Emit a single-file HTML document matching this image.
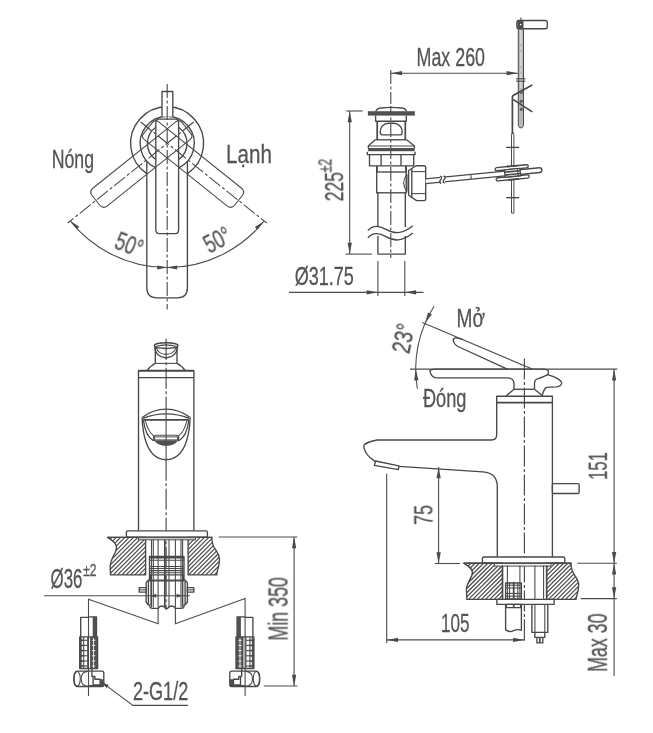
<!DOCTYPE html>
<html><head><meta charset="utf-8"><title>Faucet drawing</title>
<style>
html,body{margin:0;padding:0;background:#fff;}
body{width:653px;height:733px;overflow:hidden;font-family:"Liberation Sans",sans-serif;}
svg{display:block;}
.o{fill:none;stroke:#484848;stroke-width:1.35;stroke-linecap:butt;stroke-linejoin:round;}
.k{fill:none;stroke:#484848;stroke-width:1.7;}
.n{fill:none;stroke:#4c4c4c;stroke-width:1.1;}
.c{fill:none;stroke:#484848;stroke-width:1.1;stroke-dasharray:14 2.5 3 2.5;}
.c2{fill:none;stroke:#484848;stroke-width:1.15;stroke-dasharray:21 2.5 3 2.5;}
.h{fill:none;stroke:#505050;stroke-width:1.25;}
.w{fill:#fff;stroke:#484848;stroke-width:1.35;stroke-linejoin:round;}
.f{fill:#505050;stroke:none;}
.wf{fill:#fff;stroke:none;}
.gr{fill:#b8b8b8;stroke:#4a4a4a;stroke-width:1.0;}
.cw{fill:none;stroke:#f0f0f0;stroke-width:0.9;stroke-dasharray:14 2.5 3 2.5;}
.wl{fill:none;stroke:#e8e8e8;stroke-width:1.0;}
.wn{fill:#fff;stroke:#4c4c4c;stroke-width:1.0;}
.g{fill:#8a8a8a;stroke:none;}
.ah{fill:#4a4a4a;stroke:none;}
.t{font-family:"Liberation Sans",sans-serif;fill:#555;stroke:#555;stroke-width:0.3;}
</style></head><body>
<svg width="653" height="733" viewBox="0 0 653 733">
<defs><filter id="nf" x="-10%" y="-10%" width="120%" height="120%"><feOffset dx="0" dy="0"/></filter></defs>
<rect x="0" y="0" width="653" height="733" fill="#fff"/>
<g id="topview">
<path class="o" d="M146.8,173.6 A36.5,36.5 0 1 1 187.4,173.6" />
<path class="o" d="M155.8,167.9 A27.1,27.1 0 1 1 178.6,167.9" />
<path class="w" d="M162,116.6 V91.5 H172.8 V116.6" />
<path class="o" d="M155.8,127.3 A19.7,19.7 0 0 0 155.8,159.5" />
<path class="o" d="M178.6,127.3 A19.7,19.7 0 0 1 178.6,159.5" />
<path class="o" d="M146.8,161.2 V287.8 Q146.8,297.8 156.8,297.8 H177.4 Q187.4,297.8 187.4,287.8 V161.2" />
<g transform="translate(167.2,143.3)">
<path class="o" d="M-11.4,-21.2 V86.7 Q-11.4,90.3 -7.800000000000001,90.3 H7.800000000000001 Q11.4,90.3 11.4,86.7 V-21.2 Q11.4,-24.2 8.4,-24.2 H-8.4 Q-11.4,-24.2 -11.4,-21.2 Z" />
<g transform="rotate(51.3)">
<path class="n" d="M-11.4,-20.1 V85.8 Q-11.4,91.3 -5.9,91.3 H5.9 Q11.4,91.3 11.4,85.8 V-20.1 Q11.4,-24.6 6.9,-24.6 H-6.9 Q-11.4,-24.6 -11.4,-20.1 Z" />
<line class="c" x1="0.00" y1="-34.00" x2="0.00" y2="127.50"/>
</g>
<g transform="rotate(-51.3)">
<path class="n" d="M-11.4,-20.1 V85.8 Q-11.4,91.3 -5.9,91.3 H5.9 Q11.4,91.3 11.4,85.8 V-20.1 Q11.4,-24.6 6.9,-24.6 H-6.9 Q-11.4,-24.6 -11.4,-20.1 Z" />
<line class="c" x1="0.00" y1="-34.00" x2="0.00" y2="127.50"/>
</g>
</g>
<line class="c" x1="167.20" y1="84.00" x2="167.20" y2="309.50"/>
<path class="n" d="M70.41,221.12 A124.2,124.2 0 0 0 263.72,221.46" />
<polygon class="ah" points="70.41,221.12 79.28,226.65 76.88,229.33"/>
<polygon class="ah" points="263.72,221.46 257.27,229.69 254.86,227.02"/>
<polygon class="ah" points="167.20,267.50 157.20,269.40 157.20,265.60"/>
<polygon class="ah" points="167.20,267.50 177.20,265.60 177.20,269.40"/>
</g>
<text class="t" filter="url(#nf)" font-size="26.29" text-anchor="start" textLength="42.33" lengthAdjust="spacingAndGlyphs" transform="translate(51.70,167.90) rotate(0)" >Nóng</text>
<text class="t" filter="url(#nf)" font-size="26.29" text-anchor="start" textLength="45.86" lengthAdjust="spacingAndGlyphs" transform="translate(226.10,162.50) rotate(0)" >Lạnh</text>
<text class="t" filter="url(#nf)" font-size="26.19" text-anchor="start" textLength="27.87" lengthAdjust="spacingAndGlyphs" transform="translate(113.05,247.91) rotate(21)" >50°</text>
<text class="t" filter="url(#nf)" font-size="26.19" text-anchor="start" textLength="27.25" lengthAdjust="spacingAndGlyphs" transform="translate(209.49,253.98) rotate(-28)" >50°</text>
<g id="drain">
<line class="n" x1="390.80" y1="73.20" x2="517.90" y2="73.20"/>
<polygon class="ah" points="390.80,73.20 402.10,71.05 402.10,75.35"/>
<polygon class="ah" points="517.90,73.20 506.60,75.35 506.60,71.05"/>
<text class="t" filter="url(#nf)" font-size="26.29" text-anchor="start" textLength="68.54" lengthAdjust="spacingAndGlyphs" transform="translate(416.50,66.20) rotate(0)" >Max 260</text>
<line class="n" x1="349.70" y1="111.00" x2="349.70" y2="254.10"/>
<polygon class="ah" points="349.70,111.00 351.85,122.30 347.55,122.30"/>
<polygon class="ah" points="349.70,254.10 347.55,242.80 351.85,242.80"/>
<line class="n" x1="346.20" y1="111.00" x2="362.60" y2="111.00"/>
<line class="n" x1="345.40" y1="254.10" x2="371.90" y2="254.10"/>
<line class="c" x1="390.80" y1="70.00" x2="390.80" y2="104.00"/>
<line class="c" x1="390.8" y1="106" x2="390.8" y2="258" stroke-dashoffset="5"/>
<path class="o" d="M375.9,111.3 Q376.5,108.6 381,108 Q391,106.8 401.5,108 Q406,108.6 406.5,111.3" />
<rect class="f" x="367.90" y="111.20" width="46.90" height="4.40" rx="0"/>
<path class="o" d="M375.6,115.6 V121.2 H406.3 V115.6" />
<path class="k" d="M377.2,121.2 V139.8 M405.3,121.2 V139.8" />
<line class="o" x1="375.20" y1="139.80" x2="406.50" y2="139.80"/>
<path class="o" d="M375.2,139.8 L368.3,146 V148.2 M406.5,139.8 L414.5,146 V148.2" />
<line class="n" x1="368.30" y1="146.00" x2="414.50" y2="146.00"/>
<path class="o" d="M382,134.9 Q380.2,134.9 380.2,131.6 A8.4,8.4 0 0 1 388.6,123.2 H393.8 A8.4,8.4 0 0 1 402.2,131.6 Q402.2,134.9 400.5,134.9 Z" />
<rect class="f" x="368.10" y="148.00" width="46.60" height="3.20" rx="0"/>
<path class="o" d="M367.3,151.7 V154.6 H415.1 V151.7" />
<path class="o" d="M369.5,154.6 V165.9 H413.7 V154.6" />
<line class="o" x1="381.10" y1="154.60" x2="381.10" y2="165.90"/>
<line class="o" x1="401.00" y1="154.60" x2="401.00" y2="165.90"/>
<path class="o" d="M376.7,166 V192.8 H377.9 V227 M406.2,166 V192.8 H405.3 V227" />
<path class="k" d="M376.9,166 V172 M406,166 V172" />
<line class="o" x1="376.70" y1="172.00" x2="406.20" y2="172.00"/>
<line class="o" x1="376.70" y1="192.80" x2="406.20" y2="192.80"/>
<path class="o" d="M377.9,236 V254.1 H405.3 V236" />
<path class="o" d="M367.9,230.5 C372,225.8 378,224.8 386,229.3 S402,234.8 412.8,225.8" />
<path class="o" d="M367.9,237.8 C372,233.1 378,232.1 386,236.6 S402,242.1 412.8,233.1" />
<line class="n" x1="377.90" y1="261.10" x2="377.90" y2="296.00"/>
<line class="n" x1="404.80" y1="261.10" x2="404.80" y2="296.00"/>
<line class="n" x1="289.00" y1="292.40" x2="423.50" y2="292.40"/>
<polygon class="ah" points="377.90,292.30 366.60,294.45 366.60,290.15"/>
<polygon class="ah" points="404.80,292.30 416.10,290.15 416.10,294.45"/>
<text class="t" filter="url(#nf)" font-size="26.29" text-anchor="start" textLength="59.07" lengthAdjust="spacingAndGlyphs" transform="translate(294.80,284.50) rotate(0)" >Ø31.75</text>
<path class="w" d="M416.1,165.7 H424 Q425.7,165.7 425.7,167.4 V198.9 Q425.7,200.6 424,200.6 H416.6 L408.6,195.2 V170.5 Z" />
<line class="n" x1="411.80" y1="171.60" x2="425.70" y2="171.60"/>
<line class="n" x1="411.80" y1="193.60" x2="425.70" y2="193.60"/>
<line class="o" x1="411.80" y1="168.60" x2="411.80" y2="197.20"/>
<path class="n" d="M406.8,174.3 Q400.6,182.9 406.8,191.4" />
<line class="n" x1="407.00" y1="174.30" x2="407.00" y2="191.40"/>
<path class="wn" d="M511.5,134.8 L512.7,132 L513.9,134.8 V213.1 H511.5 Z" />
<line class="o" x1="506.10" y1="147.40" x2="519.30" y2="147.40"/>
<line class="o" x1="506.10" y1="197.70" x2="519.10" y2="197.70"/>
<g transform="translate(425.7,181.3) rotate(-5.6)">
<path class="w" d="M72,-6.7 H101.6 Q103.5,-6.7 103.5,-5.1 Q103.5,-3.5 101.6,-3.5 H72 Q70.3,-3.5 70.3,-5.1 Q70.3,-6.7 72,-6.7 Z" />
<path class="w" d="M72,3.5 H101.6 Q103.5,3.5 103.5,5.1 Q103.5,6.7 101.6,6.7 H72 Q70.3,6.7 70.3,5.1 Q70.3,3.5 72,3.5 Z" />
<path class="w" d="M0,-2.4 H114.5 Q116.7,-2.4 116.7,0 Q116.7,2.4 114.5,2.4 H0" />
<line class="n" x1="45.50" y1="-2.40" x2="45.50" y2="2.40"/>
<rect class="wf" x="14.60" y="-3.00" width="4.60" height="6.00" rx="0"/>
<path class="o" d="M15,-3.8 q2.2,1.9 0,3.8 q-2.2,1.9 0,3.8 M18.6,-3.8 q2.2,1.9 0,3.8 q-2.2,1.9 0,3.8" />
<rect class="w" x="79.50" y="-3.70" width="15.50" height="7.40" rx="0"/>
<line class="k" x1="79.50" y1="-1.30" x2="95.00" y2="-1.30"/>
<line class="k" x1="79.50" y1="1.50" x2="95.00" y2="1.50"/>
<line class="n" x1="92.50" y1="-3.70" x2="92.50" y2="3.70"/>
<line class="k" x1="82.00" y1="-6.70" x2="93.00" y2="-6.70"/>
<line class="k" x1="82.00" y1="6.70" x2="93.00" y2="6.70"/>
</g>
<path class="gr" d="M518.3,24 V125.6 L519.8,127.8 H522 L523.5,125.6 V24 Z" />
<line class="n" x1="520.90" y1="17.50" x2="520.90" y2="24.00"/>
<line class="cw" x1="520.90" y1="30.00" x2="520.90" y2="95.00"/>
<rect class="w" x="516.90" y="20.50" width="30.40" height="8.20" rx="2"/>
<rect class="f" x="517.30" y="21.00" width="6.20" height="7.20" rx="0"/>
<circle class="w" cx="520.60" cy="24.60" r="1.50"/>
<line class="n" x1="516.00" y1="78.80" x2="525.50" y2="78.80"/>
<line class="n" x1="516.00" y1="81.20" x2="525.50" y2="81.20"/>
<path class="k" d="M532.3,84.9 L513.5,95.2 Q512.4,95.8 512.4,97.2 V134 M513.4,99.6 L532.3,111.9" />
<circle class="n" cx="521.30" cy="92.30" r="1.10"/>
<circle class="n" cx="521.30" cy="101.30" r="1.10"/>
<circle class="n" cx="521.30" cy="109.30" r="1.10"/>
</g>
<text class="t" filter="url(#nf)" font-size="26.7" text-anchor="start" textLength="29.22" lengthAdjust="spacingAndGlyphs" transform="translate(343.10,201.30) rotate(-90)" >225</text>
<text class="t" filter="url(#nf)" font-size="18.94" text-anchor="start" textLength="13.52" lengthAdjust="spacingAndGlyphs" transform="translate(331.40,172.40) rotate(-90)" >±2</text>
<g id="front">
<path class="o" d="M155.3,347.5 V363.3 Q150.8,365.3 147.2,370.5 M177.0,347.5 V363.3 Q181.5,365.3 185.1,370.5" />
<line class="n" x1="155.30" y1="363.40" x2="177.00" y2="363.40"/>
<ellipse class="w" cx="166.1" cy="345.6" rx="11.9" ry="2.9"/>
<path class="n" d="M155.4,346.6 Q166.1,343.2 176.8,346.6" />
<path class="o" d="M154.6,346.8 Q155.5,357.0 166.1,358.0 Q176.7,357.0 177.6,346.8" />
<path class="n" d="M156,347.6 Q158.5,354.0 166.1,354.4 Q173.7,354.0 176.2,347.6" />
<path class="o" d="M138.5,530.8 V370.7 H193.9 V530.8" />
<line class="o" x1="138.50" y1="377.60" x2="193.90" y2="377.60"/>
<line class="k" x1="138.50" y1="370.70" x2="193.90" y2="370.70"/>
<path class="o" d="M142.1,417.5 Q153,409.1 166.1,409.1 Q179.2,409.1 190.2,417.5" />
<path class="o" d="M143,418.3 Q154,413.8 166.1,413.8 Q178.2,413.8 189.3,418.3" />
<line class="k" x1="143.60" y1="419.90" x2="188.70" y2="419.90"/>
<path class="o" d="M142.1,417.5 C142.6,432 146,459.7 166.1,459.7 C186.2,459.7 189.6,432 190.2,417.5" />
<path class="o" d="M143.4,419.5 C144.5,430 147.5,437.5 153.7,441 M188.9,419.5 C187.8,430 184.8,437.5 178.6,441" />
<path class="n" d="M145.4,420.5 C147,428 150,433 153.8,436 L156,435.3 H176.3 L178.5,436 C182.3,433 185.3,428 186.9,420.5" />
<path class="o" d="M153.8,436 V441 M178.5,436 V441" />
<path class="f" d="M153.7,440.3 H178.6 Q174,446 166.1,446 Q158.3,446 153.7,440.3 Z" />
<rect class="wn" x="154.60" y="436.90" width="23.00" height="3.00" rx="0"/>
<line class="c2" x1="166.10" y1="338.70" x2="166.10" y2="409.00"/>
<line class="c2" x1="166.10" y1="459.70" x2="166.10" y2="610.00"/>
<line class="n" x1="166.10" y1="409.00" x2="166.10" y2="459.70"/>
<rect class="w" x="126.40" y="530.80" width="81.00" height="6.40" rx="1.5"/>
<clipPath id="cl1"><path d="M107.4,537.4 H145.6 V574.9 H110.6 L110.1,566.8 C110.5,558 116.5,553 116.5,547.5 C116.5,543 112,540 107.4,537.4 Z"/></clipPath><clipPath id="cr1"><path d="M188.1,537.4 H211.7 L212.2,542 C213,549 219.5,552 219.5,559.4 C219.5,566 217,570 216.8,574.9 H188.1 Z"/></clipPath>
<g clip-path="url(#cl1)">
<line class="h" x1="70.20" y1="574.90" x2="107.70" y2="537.40"/>
<line class="h" x1="74.50" y1="574.90" x2="112.00" y2="537.40"/>
<line class="h" x1="78.80" y1="574.90" x2="116.30" y2="537.40"/>
<line class="h" x1="83.10" y1="574.90" x2="120.60" y2="537.40"/>
<line class="h" x1="87.40" y1="574.90" x2="124.90" y2="537.40"/>
<line class="h" x1="91.70" y1="574.90" x2="129.20" y2="537.40"/>
<line class="h" x1="96.00" y1="574.90" x2="133.50" y2="537.40"/>
<line class="h" x1="100.30" y1="574.90" x2="137.80" y2="537.40"/>
<line class="h" x1="104.60" y1="574.90" x2="142.10" y2="537.40"/>
<line class="h" x1="108.90" y1="574.90" x2="146.40" y2="537.40"/>
<line class="h" x1="113.20" y1="574.90" x2="150.70" y2="537.40"/>
<line class="h" x1="117.50" y1="574.90" x2="155.00" y2="537.40"/>
<line class="h" x1="121.80" y1="574.90" x2="159.30" y2="537.40"/>
<line class="h" x1="126.10" y1="574.90" x2="163.60" y2="537.40"/>
<line class="h" x1="130.40" y1="574.90" x2="167.90" y2="537.40"/>
<line class="h" x1="134.70" y1="574.90" x2="172.20" y2="537.40"/>
<line class="h" x1="139.00" y1="574.90" x2="176.50" y2="537.40"/>
<line class="h" x1="143.30" y1="574.90" x2="180.80" y2="537.40"/>
</g>
<g clip-path="url(#cr1)">
<line class="h" x1="149.80" y1="574.90" x2="187.30" y2="537.40"/>
<line class="h" x1="154.10" y1="574.90" x2="191.60" y2="537.40"/>
<line class="h" x1="158.40" y1="574.90" x2="195.90" y2="537.40"/>
<line class="h" x1="162.70" y1="574.90" x2="200.20" y2="537.40"/>
<line class="h" x1="167.00" y1="574.90" x2="204.50" y2="537.40"/>
<line class="h" x1="171.30" y1="574.90" x2="208.80" y2="537.40"/>
<line class="h" x1="175.60" y1="574.90" x2="213.10" y2="537.40"/>
<line class="h" x1="179.90" y1="574.90" x2="217.40" y2="537.40"/>
<line class="h" x1="184.20" y1="574.90" x2="221.70" y2="537.40"/>
<line class="h" x1="188.50" y1="574.90" x2="226.00" y2="537.40"/>
<line class="h" x1="192.80" y1="574.90" x2="230.30" y2="537.40"/>
<line class="h" x1="197.10" y1="574.90" x2="234.60" y2="537.40"/>
<line class="h" x1="201.40" y1="574.90" x2="238.90" y2="537.40"/>
<line class="h" x1="205.70" y1="574.90" x2="243.20" y2="537.40"/>
<line class="h" x1="210.00" y1="574.90" x2="247.50" y2="537.40"/>
<line class="h" x1="214.30" y1="574.90" x2="251.80" y2="537.40"/>
<line class="h" x1="218.60" y1="574.90" x2="256.10" y2="537.40"/>
</g>
<path class="o" d="M107.4,537.4 H145.6 V574.9 H110.6 L110.1,566.8 C110.5,558 116.5,553 116.5,547.5 C116.5,543 112,540 107.4,537.4 Z" />
<path class="o" d="M188.1,537.4 H211.7 L212.2,542 C213,549 219.5,552 219.5,559.4 C219.5,566 217,570 216.8,574.9 H188.1 Z" />
<line class="o" x1="107.40" y1="537.40" x2="212.60" y2="537.40"/>
<rect class="wn" x="138.30" y="537.80" width="57.20" height="2.00" rx="0"/>
<line class="n" x1="151.50" y1="539.60" x2="151.50" y2="607.50"/>
<line class="n" x1="153.30" y1="539.60" x2="153.30" y2="607.50"/>
<line class="n" x1="158.10" y1="539.60" x2="158.10" y2="607.50"/>
<line class="n" x1="169.00" y1="539.60" x2="169.00" y2="607.50"/>
<line class="n" x1="175.40" y1="539.60" x2="175.40" y2="607.50"/>
<line class="n" x1="181.00" y1="539.60" x2="181.00" y2="607.50"/>
<line class="n" x1="182.60" y1="539.60" x2="182.60" y2="607.50"/>
<line class="k" x1="164.80" y1="539.60" x2="164.80" y2="608.00"/>
<rect class="o" x="149.50" y="556.40" width="34.50" height="24.40" rx="0"/>
<line class="k" x1="149.50" y1="557.60" x2="184.00" y2="557.60"/>
<line class="n" x1="149.50" y1="560.30" x2="184.00" y2="560.30"/>
<line class="n" x1="149.50" y1="566.50" x2="184.00" y2="566.50"/>
<line class="n" x1="149.50" y1="568.50" x2="184.00" y2="568.50"/>
<line class="n" x1="149.50" y1="570.60" x2="184.00" y2="570.60"/>
<line class="n" x1="149.50" y1="572.70" x2="184.00" y2="572.70"/>
<line class="n" x1="149.50" y1="574.90" x2="184.00" y2="574.90"/>
<line class="k" x1="150.40" y1="574.90" x2="150.40" y2="580.80"/>
<line class="k" x1="165.20" y1="574.90" x2="165.20" y2="580.80"/>
<line class="k" x1="183.10" y1="574.90" x2="183.10" y2="580.80"/>
<path class="o" d="M148.2,580.1 L146.1,582.8 V602 L148.2,604.9 H149.8 V606.5 Q150,608.4 152.5,608.4 H158.1 Q159.3,606.0 162.0,606.0 Q164.6,606.0 165.6,608.4 H167.6 Q168.8,606.0 171.6,606.0 Q174.3,606.0 175.4,608.4 H181 Q183.8,608.4 184,606.5 V604.9 H185.3 L187.4,602 V582.8 L185.3,580.1 Z" />
<line class="o" x1="148.40" y1="581.00" x2="148.40" y2="604.00"/>
<line class="n" x1="150.90" y1="580.10" x2="150.90" y2="604.90"/>
<line class="o" x1="185.10" y1="581.00" x2="185.10" y2="604.00"/>
<line class="n" x1="182.70" y1="580.10" x2="182.70" y2="604.90"/>
<rect class="w" x="139.20" y="587.60" width="6.90" height="4.60" rx="0"/>
<line class="n" x1="139.20" y1="589.90" x2="146.10" y2="589.90"/>
<rect class="w" x="187.40" y="587.60" width="6.40" height="4.60" rx="0"/>
<line class="n" x1="187.40" y1="589.90" x2="193.80" y2="589.90"/>
<line class="n" x1="44.10" y1="595.70" x2="189.80" y2="595.70"/>
<polygon class="ah" points="150.50,595.70 156.30,593.70 156.30,597.70"/>
<polygon class="ah" points="182.40,595.70 176.60,597.70 176.60,593.70"/>
<path class="n" d="M88.5,696 V599.2 L158.1,623.8 V608 M245.1,696 V598.5 L175.4,623.8 V608" />
<g transform="translate(88.5,0) scale(1,1)">
<path class="o" d="M-7.8,636.9 V617.4 H0 V616.8 H8 V636.9" />
<rect class="f" x="4.20" y="616.80" width="3.80" height="20.10" rx="0"/>
<rect class="o" x="-8.80" y="636.90" width="17.90" height="31.60" rx="0"/>
<rect class="f" x="1.60" y="636.90" width="7.50" height="31.60" rx="0"/>
<rect class="f" x="-8.80" y="636.90" width="2.00" height="31.60" rx="0"/>
<line class="k" x1="-8.80" y1="640.30" x2="-4.80" y2="640.30"/>
<line class="n" x1="-4.80" y1="640.30" x2="-0.80" y2="640.30"/>
<line class="wl" x1="3.40" y1="640.30" x2="6.80" y2="640.30"/>
<line class="k" x1="-8.80" y1="645.40" x2="-4.80" y2="645.40"/>
<line class="n" x1="-4.80" y1="645.40" x2="-0.80" y2="645.40"/>
<line class="wl" x1="3.40" y1="645.40" x2="6.80" y2="645.40"/>
<line class="k" x1="-8.80" y1="650.60" x2="-4.80" y2="650.60"/>
<line class="n" x1="-4.80" y1="650.60" x2="-0.80" y2="650.60"/>
<line class="wl" x1="3.40" y1="650.60" x2="6.80" y2="650.60"/>
<line class="k" x1="-8.80" y1="655.80" x2="-4.80" y2="655.80"/>
<line class="n" x1="-4.80" y1="655.80" x2="-0.80" y2="655.80"/>
<line class="wl" x1="3.40" y1="655.80" x2="6.80" y2="655.80"/>
<line class="k" x1="-8.80" y1="661.00" x2="-4.80" y2="661.00"/>
<line class="n" x1="-4.80" y1="661.00" x2="-0.80" y2="661.00"/>
<line class="wl" x1="3.40" y1="661.00" x2="6.80" y2="661.00"/>
<line class="k" x1="-8.80" y1="666.00" x2="-4.80" y2="666.00"/>
<line class="n" x1="-4.80" y1="666.00" x2="-0.80" y2="666.00"/>
<line class="wl" x1="3.40" y1="666.00" x2="6.80" y2="666.00"/>
<line class="n" x1="-4.80" y1="636.90" x2="-4.80" y2="668.50"/>
<line class="n" x1="-0.80" y1="636.90" x2="-0.80" y2="668.50"/>
<line class="wl" x1="5.10" y1="638.00" x2="5.10" y2="668.00"/>
<path class="w" d="M-11.5,671.1 H13.6 Q15.3,671.1 15.3,673 V685 Q15.3,686.5 13.6,686.5 H-11.5 Q-14.7,686.3 -14.7,679 Q-14.7,671.3 -11.5,671.1 Z" />
<path class="n" d="M0,671.1 Q-7.6,671.8 -7.4,678.8 Q-7.6,685.8 0,686.5" />
<ellipse class="n" cx="-11.3" cy="678.8" rx="3.1" ry="7.3"/>
<line class="n" x1="0.00" y1="671.10" x2="0.00" y2="686.50"/>
<path class="o" d="M3.4,668.5 V676.3 H6.4 V679.2 H11.6 V685 H4.6 V676.3" />
<path class="f" d="M11.6,679.2 H15.3 V686.5 H11.6 Z" />
<line class="k" x1="-0.50" y1="685.90" x2="14.50" y2="685.90"/>
</g>
<g transform="translate(245.1,0) scale(-1,1)">
<path class="o" d="M-7.8,636.9 V617.4 H0 V616.8 H8 V636.9" />
<rect class="f" x="4.20" y="616.80" width="3.80" height="20.10" rx="0"/>
<rect class="o" x="-8.80" y="636.90" width="17.90" height="31.60" rx="0"/>
<rect class="f" x="1.60" y="636.90" width="7.50" height="31.60" rx="0"/>
<rect class="f" x="-8.80" y="636.90" width="2.00" height="31.60" rx="0"/>
<line class="k" x1="-8.80" y1="640.30" x2="-4.80" y2="640.30"/>
<line class="n" x1="-4.80" y1="640.30" x2="-0.80" y2="640.30"/>
<line class="wl" x1="3.40" y1="640.30" x2="6.80" y2="640.30"/>
<line class="k" x1="-8.80" y1="645.40" x2="-4.80" y2="645.40"/>
<line class="n" x1="-4.80" y1="645.40" x2="-0.80" y2="645.40"/>
<line class="wl" x1="3.40" y1="645.40" x2="6.80" y2="645.40"/>
<line class="k" x1="-8.80" y1="650.60" x2="-4.80" y2="650.60"/>
<line class="n" x1="-4.80" y1="650.60" x2="-0.80" y2="650.60"/>
<line class="wl" x1="3.40" y1="650.60" x2="6.80" y2="650.60"/>
<line class="k" x1="-8.80" y1="655.80" x2="-4.80" y2="655.80"/>
<line class="n" x1="-4.80" y1="655.80" x2="-0.80" y2="655.80"/>
<line class="wl" x1="3.40" y1="655.80" x2="6.80" y2="655.80"/>
<line class="k" x1="-8.80" y1="661.00" x2="-4.80" y2="661.00"/>
<line class="n" x1="-4.80" y1="661.00" x2="-0.80" y2="661.00"/>
<line class="wl" x1="3.40" y1="661.00" x2="6.80" y2="661.00"/>
<line class="k" x1="-8.80" y1="666.00" x2="-4.80" y2="666.00"/>
<line class="n" x1="-4.80" y1="666.00" x2="-0.80" y2="666.00"/>
<line class="wl" x1="3.40" y1="666.00" x2="6.80" y2="666.00"/>
<line class="n" x1="-4.80" y1="636.90" x2="-4.80" y2="668.50"/>
<line class="n" x1="-0.80" y1="636.90" x2="-0.80" y2="668.50"/>
<line class="wl" x1="5.10" y1="638.00" x2="5.10" y2="668.00"/>
<path class="w" d="M-11.5,671.1 H13.6 Q15.3,671.1 15.3,673 V685 Q15.3,686.5 13.6,686.5 H-11.5 Q-14.7,686.3 -14.7,679 Q-14.7,671.3 -11.5,671.1 Z" />
<path class="n" d="M0,671.1 Q-7.6,671.8 -7.4,678.8 Q-7.6,685.8 0,686.5" />
<ellipse class="n" cx="-11.3" cy="678.8" rx="3.1" ry="7.3"/>
<line class="n" x1="0.00" y1="671.10" x2="0.00" y2="686.50"/>
<path class="o" d="M3.4,668.5 V676.3 H6.4 V679.2 H11.6 V685 H4.6 V676.3" />
<path class="f" d="M11.6,679.2 H15.3 V686.5 H11.6 Z" />
<line class="k" x1="-0.50" y1="685.90" x2="14.50" y2="685.90"/>
</g>
<path class="n" d="M102,682.4 L132.9,705.4 H188.1" />
<polygon class="ah" points="102.00,682.40 108.75,685.06 106.48,688.11"/>
<line class="n" x1="294.10" y1="537.00" x2="294.10" y2="686.00"/>
<polygon class="ah" points="294.10,537.00 296.25,548.30 291.95,548.30"/>
<polygon class="ah" points="294.10,686.00 291.95,674.70 296.25,674.70"/>
<line class="n" x1="218.70" y1="537.00" x2="297.40" y2="537.00"/>
<line class="n" x1="263.70" y1="686.00" x2="297.40" y2="686.00"/>
</g>
<text class="t" filter="url(#nf)" font-size="27.12" text-anchor="start" textLength="31.93" lengthAdjust="spacingAndGlyphs" transform="translate(50.50,587.80) rotate(0)" >Ø36</text>
<text class="t" filter="url(#nf)" font-size="17.08" text-anchor="start" textLength="13.21" lengthAdjust="spacingAndGlyphs" transform="translate(83.30,575.70) rotate(0)" >±2</text>
<text class="t" filter="url(#nf)" font-size="26.29" text-anchor="start" textLength="55.33" lengthAdjust="spacingAndGlyphs" transform="translate(132.90,700.40) rotate(0)" >2-G1/2</text>
<text class="t" filter="url(#nf)" font-size="26.91" text-anchor="start" textLength="63.54" lengthAdjust="spacingAndGlyphs" transform="translate(287.60,640.60) rotate(-90)" >Min 350</text>
<g id="side">
<line class="n" x1="410.00" y1="369.10" x2="617.30" y2="369.10"/>
<path class="o" d="M435.5,369.1 H544 M435.5,369.1 Q429.4,369.2 430,371.6 Q431.5,377.9 437.5,377.9 H508 Q513.6,378.2 514,383.4 V389.3 L506,396" />
<path class="o" d="M544,369.1 Q548.6,369.6 548.4,372 Q548.3,373.6 547.7,374.6 Q553,376.2 557.5,378.6 Q562,381.2 561.7,383.4 Q561,386.4 556.5,386.8 Q550,386.8 546.3,387.4 Q544.3,389 543.4,391.8 L542.2,395.6" />
<path class="o" d="M534.5,389.3 V383.4 Q534.6,379.6 537.5,378.8 Q543,377.2 547.7,374.6" />
<line class="o" x1="514.00" y1="389.30" x2="534.50" y2="389.30"/>
<line class="o" x1="534.50" y1="389.30" x2="542.20" y2="395.60"/>
<line class="n" x1="422.40" y1="322.50" x2="532.30" y2="369.10"/>
<path class="o" d="M463,339.7 Q453.5,336 453.2,340 Q453.5,344.5 459,347 L507.3,369.1" />
<path class="n" d="M434.07,306.28 A116.6,116.6 0 0 0 417.37,388.75" />
<polygon class="ah" points="424.97,323.54 427.99,312.44 431.86,314.33"/>
<polygon class="ah" points="415.70,369.10 418.44,380.27 414.14,380.50"/>
<path class="o" d="M552.4,557 V396.2 H496.7 V434.5 Q496.7,440 491.5,440 H377 Q368,441.8 364.4,444.6 Q363.2,446.2 364.6,449.8 Q367,456.5 375.2,461.4" />
<line class="k" x1="496.70" y1="402.60" x2="552.40" y2="402.60"/>
<path class="w" d="M375.6,461.0 L398.9,465.8 L398.4,469.6 L374.4,465.4 Z" />
<path class="o" d="M398.9,466.3 L483,471.8 Q497.3,472.8 497.3,487 V557" />
<rect class="w" x="552.40" y="483.60" width="26.70" height="9.90" rx="1"/>
<line class="c2" x1="524.40" y1="358.60" x2="524.40" y2="643.00"/>
<rect class="w" x="482.40" y="557.00" width="82.40" height="6.20" rx="1.5"/>
<clipPath id="cl2"><path d="M463.7,563.2 H502.6 V599.4 H466.9 L466.4,589.5 C466.8,582 472.4,578 472.4,572.5 C472.4,568 468,566 463.7,563.2 Z"/></clipPath><clipPath id="cr2"><path d="M546.6,563.2 H570.9 L571.4,567.8 C572.2,574.8 578.7,577.8 578.7,585.2 C578.7,591.8 576.2,595.8 576,599.4 H546.6 Z"/></clipPath>
<g clip-path="url(#cl2)">
<line class="h" x1="426.10" y1="599.40" x2="462.30" y2="563.20"/>
<line class="h" x1="430.35" y1="599.40" x2="466.55" y2="563.20"/>
<line class="h" x1="434.60" y1="599.40" x2="470.80" y2="563.20"/>
<line class="h" x1="438.85" y1="599.40" x2="475.05" y2="563.20"/>
<line class="h" x1="443.10" y1="599.40" x2="479.30" y2="563.20"/>
<line class="h" x1="447.35" y1="599.40" x2="483.55" y2="563.20"/>
<line class="h" x1="451.60" y1="599.40" x2="487.80" y2="563.20"/>
<line class="h" x1="455.85" y1="599.40" x2="492.05" y2="563.20"/>
<line class="h" x1="460.10" y1="599.40" x2="496.30" y2="563.20"/>
<line class="h" x1="464.35" y1="599.40" x2="500.55" y2="563.20"/>
<line class="h" x1="468.60" y1="599.40" x2="504.80" y2="563.20"/>
<line class="h" x1="472.85" y1="599.40" x2="509.05" y2="563.20"/>
<line class="h" x1="477.10" y1="599.40" x2="513.30" y2="563.20"/>
<line class="h" x1="481.35" y1="599.40" x2="517.55" y2="563.20"/>
<line class="h" x1="485.60" y1="599.40" x2="521.80" y2="563.20"/>
<line class="h" x1="489.85" y1="599.40" x2="526.05" y2="563.20"/>
<line class="h" x1="494.10" y1="599.40" x2="530.30" y2="563.20"/>
<line class="h" x1="498.35" y1="599.40" x2="534.55" y2="563.20"/>
<line class="h" x1="502.60" y1="599.40" x2="538.80" y2="563.20"/>
</g>
<g clip-path="url(#cr2)">
<line class="h" x1="510.30" y1="599.40" x2="546.50" y2="563.20"/>
<line class="h" x1="514.55" y1="599.40" x2="550.75" y2="563.20"/>
<line class="h" x1="518.80" y1="599.40" x2="555.00" y2="563.20"/>
<line class="h" x1="523.05" y1="599.40" x2="559.25" y2="563.20"/>
<line class="h" x1="527.30" y1="599.40" x2="563.50" y2="563.20"/>
<line class="h" x1="531.55" y1="599.40" x2="567.75" y2="563.20"/>
<line class="h" x1="535.80" y1="599.40" x2="572.00" y2="563.20"/>
<line class="h" x1="540.05" y1="599.40" x2="576.25" y2="563.20"/>
<line class="h" x1="544.30" y1="599.40" x2="580.50" y2="563.20"/>
<line class="h" x1="548.55" y1="599.40" x2="584.75" y2="563.20"/>
<line class="h" x1="552.80" y1="599.40" x2="589.00" y2="563.20"/>
<line class="h" x1="557.05" y1="599.40" x2="593.25" y2="563.20"/>
<line class="h" x1="561.30" y1="599.40" x2="597.50" y2="563.20"/>
<line class="h" x1="565.55" y1="599.40" x2="601.75" y2="563.20"/>
<line class="h" x1="569.80" y1="599.40" x2="606.00" y2="563.20"/>
<line class="h" x1="574.05" y1="599.40" x2="610.25" y2="563.20"/>
<line class="h" x1="578.30" y1="599.40" x2="614.50" y2="563.20"/>
</g>
<path class="o" d="M463.7,563.2 H502.6 V599.4 H466.9 L466.4,589.5 C466.8,582 472.4,578 472.4,572.5 C472.4,568 468,566 463.7,563.2 Z" />
<path class="o" d="M546.6,563.2 H570.9 L571.4,567.8 C572.2,574.8 578.7,577.8 578.7,585.2 C578.7,591.8 576.2,595.8 576,599.4 H546.6 Z" />
<line class="o" x1="463.70" y1="563.20" x2="571.50" y2="563.20"/>
<rect class="wn" x="494.50" y="563.60" width="56.50" height="2.50" rx="0"/>
<line class="n" x1="507.40" y1="565.40" x2="507.40" y2="599.40"/>
<line class="n" x1="519.90" y1="565.40" x2="519.90" y2="599.40"/>
<line class="n" x1="534.90" y1="565.40" x2="534.90" y2="599.40"/>
<line class="n" x1="543.60" y1="565.40" x2="543.60" y2="599.40"/>
<line class="o" x1="502.40" y1="565.40" x2="502.40" y2="599.40"/>
<line class="o" x1="546.60" y1="565.40" x2="546.60" y2="599.40"/>
<rect class="o" x="505.60" y="583.00" width="15.80" height="15.90" rx="0"/>
<line class="n" x1="505.60" y1="585.20" x2="521.40" y2="585.20"/>
<line class="n" x1="505.60" y1="588.00" x2="521.40" y2="588.00"/>
<line class="n" x1="505.60" y1="593.40" x2="521.40" y2="593.40"/>
<line class="n" x1="505.60" y1="596.20" x2="521.40" y2="596.20"/>
<line class="n" x1="509.50" y1="582.40" x2="509.50" y2="598.70"/>
<line class="n" x1="517.80" y1="582.40" x2="517.80" y2="598.70"/>
<line class="k" x1="513.70" y1="581.80" x2="513.70" y2="598.70"/>
<rect class="w" x="496.90" y="599.40" width="57.20" height="5.00" rx="0"/>
<path class="o" d="M505.6,604.4 V629.9 Q509.5,632.8 513.5,630.6 Q517.5,628.8 521.4,630.4 V604.4" />
<rect class="o" x="506.30" y="604.40" width="14.40" height="3.20" rx="0"/>
<line class="k" x1="513.70" y1="604.40" x2="513.70" y2="607.60"/>
<path class="o" d="M531.9,604.4 V632.4 H547.8 V604.4" />
<line class="n" x1="534.90" y1="604.40" x2="534.90" y2="632.40"/>
<line class="n" x1="544.80" y1="604.40" x2="544.80" y2="632.40"/>
<path class="o" d="M534.9,632.4 V637.4 H544.8 V632.4 M536.9,637.4 V642.9 H542.8 V637.4" />
<line class="k" x1="539.80" y1="637.40" x2="539.80" y2="642.90"/>
<line class="n" x1="614.10" y1="369.20" x2="614.10" y2="563.20"/>
<polygon class="ah" points="614.10,369.20 616.25,380.50 611.95,380.50"/>
<polygon class="ah" points="614.10,563.20 611.95,551.90 616.25,551.90"/>
<line class="n" x1="577.40" y1="563.20" x2="616.90" y2="563.20"/>
<line class="n" x1="580.70" y1="598.60" x2="616.90" y2="598.60"/>
<line class="n" x1="614.10" y1="563.20" x2="614.10" y2="676.00"/>
<polygon class="ah" points="614.10,563.20 616.25,574.50 611.95,574.50"/>
<polygon class="ah" points="614.10,598.60 611.95,587.30 616.25,587.30"/>
<line class="n" x1="438.60" y1="466.90" x2="438.60" y2="563.50"/>
<polygon class="ah" points="438.60,466.90 440.75,478.20 436.45,478.20"/>
<polygon class="ah" points="438.60,563.50 436.45,552.20 440.75,552.20"/>
<line class="n" x1="434.90" y1="563.50" x2="459.80" y2="563.50"/>
<line class="n" x1="386.70" y1="473.70" x2="386.70" y2="642.90"/>
<line class="n" x1="386.70" y1="639.90" x2="524.40" y2="639.90"/>
<polygon class="ah" points="386.70,639.90 398.00,637.75 398.00,642.05"/>
<polygon class="ah" points="524.40,639.90 513.10,642.05 513.10,637.75"/>
</g>
<text class="t" filter="url(#nf)" font-size="26.29" text-anchor="start" textLength="28.50" lengthAdjust="spacingAndGlyphs" transform="translate(456.60,327.00) rotate(0)" >Mở</text>
<text class="t" filter="url(#nf)" font-size="26.29" text-anchor="start" textLength="43.58" lengthAdjust="spacingAndGlyphs" transform="translate(422.90,406.60) rotate(0)" >Đóng</text>
<text class="t" filter="url(#nf)" font-size="26.29" text-anchor="start" textLength="29.64" lengthAdjust="spacingAndGlyphs" transform="translate(409.04,354.58) rotate(-78.5)" >23°</text>
<text class="t" filter="url(#nf)" font-size="26.29" text-anchor="start" textLength="27.87" lengthAdjust="spacingAndGlyphs" transform="translate(606.80,479.90) rotate(-90)" >151</text>
<text class="t" filter="url(#nf)" font-size="26.29" text-anchor="start" textLength="19.97" lengthAdjust="spacingAndGlyphs" transform="translate(432.40,524.90) rotate(-90)" >75</text>
<text class="t" filter="url(#nf)" font-size="25.87" text-anchor="start" textLength="28.50" lengthAdjust="spacingAndGlyphs" transform="translate(441.10,632.40) rotate(0)" >105</text>
<text class="t" filter="url(#nf)" font-size="26.91" text-anchor="start" textLength="58.34" lengthAdjust="spacingAndGlyphs" transform="translate(606.90,671.80) rotate(-90)" >Max 30</text>
</svg>
</body></html>
